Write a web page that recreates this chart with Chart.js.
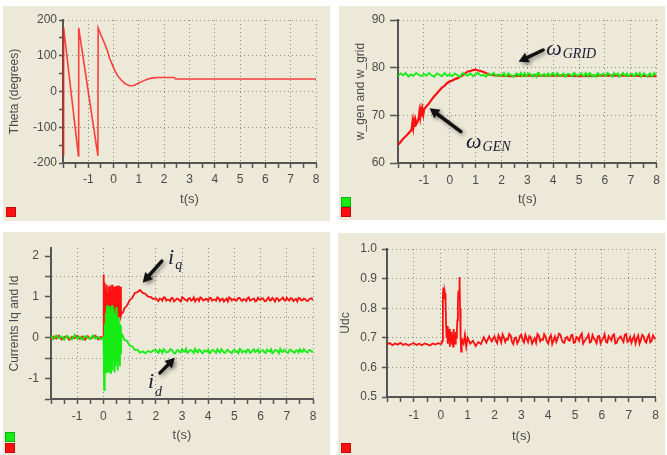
<!DOCTYPE html>
<html>
<head>
<meta charset="utf-8">
<script src="https://cdn.jsdelivr.net/npm/chart.js@4.4.1/dist/chart.umd.min.js"></script>
<style>
  html, body { margin: 0; padding: 0; background: #fff; }
  body { width: 667px; height: 455px; position: relative; overflow: hidden; }
  .panel { position: absolute; background: #ece9d8; }
  .panel canvas { display: block; }
</style>
</head>
<body>
<div class="panel" style="left:3px;top:6px;width:327px;height:215px"><canvas id="theta" width="327" height="215"></canvas></div>
<div class="panel" style="left:339px;top:6px;width:326px;height:214px"><canvas id="speed" width="326" height="214"></canvas></div>
<div class="panel" style="left:3px;top:232px;width:327px;height:223px"><canvas id="curr" width="327" height="223"></canvas></div>
<div class="panel" style="left:338px;top:233px;width:327px;height:222px"><canvas id="udc" width="327" height="222"></canvas></div>
<script>
// ---- data ----
const tPre = [-2.0, -1.9, -1.8, -1.7, -1.6, -1.5, -1.4, -1.3, -1.2, -1.1,
  -1.0, -0.9, -0.8, -0.7, -0.6, -0.5, -0.4, -0.3, -0.2, -0.1, 0.0];
const tMid = [0.1, 0.2, 0.3, 0.4, 0.5, 0.6, 0.7, 0.8, 0.9, 1.0,
  1.1, 1.2, 1.3, 1.4, 1.5, 1.6, 1.7, 1.8, 1.9];
const tSteady = [2.0, 2.1, 2.2, 2.3, 2.4, 2.5, 2.6, 2.7, 2.8, 2.9,
  3.0, 3.1, 3.2, 3.3, 3.4, 3.5, 3.6, 3.7, 3.8, 3.9,
  4.0, 4.1, 4.2, 4.3, 4.4, 4.5, 4.6, 4.7, 4.8, 4.9,
  5.0, 5.1, 5.2, 5.3, 5.4, 5.5, 5.6, 5.7, 5.8, 5.9,
  6.0, 6.1, 6.2, 6.3, 6.4, 6.5, 6.6, 6.7, 6.8, 6.9,
  7.0, 7.1, 7.2, 7.3, 7.4, 7.5, 7.6, 7.7, 7.8, 7.9, 8.0];
// in-between samples of the steady part (noise is dense there)
const tHalf = [2.05, 2.15, 2.25, 2.35, 2.45, 2.55, 2.65, 2.75, 2.85, 2.95,
  3.05, 3.15, 3.25, 3.35, 3.45, 3.55, 3.65, 3.75, 3.85, 3.95,
  4.05, 4.15, 4.25, 4.35, 4.45, 4.55, 4.65, 4.75, 4.85, 4.95,
  5.05, 5.15, 5.25, 5.35, 5.45, 5.55, 5.65, 5.75, 5.85, 5.95,
  6.05, 6.15, 6.25, 6.35, 6.45, 6.55, 6.65, 6.75, 6.85, 6.95,
  7.05, 7.15, 7.25, 7.35, 7.45, 7.55, 7.65, 7.75, 7.85, 7.95];

// Theta (degrees)
const thetaT = [-2.0, -1.98, -1.97, -1.39, -1.38, -0.62, -0.61, -0.5, -0.36, -0.25,
  -0.16, -0.05, 0.04, 0.15, 0.3, 0.45, 0.63, 0.8, 0.97, 1.15,
  1.36, 1.55, 1.76, 2.0, 2.4, 2.45, 3, 4, 5, 6, 7, 8];
const thetaV = [-110, -180, 178, -180, 178, -180, 178, 158, 135, 115,
  93, 75, 60, 45, 32, 22, 16, 17, 23, 29,
  35, 38, 39, 39, 39, 35, 35, 35, 35, 35, 35, 35];

// w_grid (green)
const wGridV = [78.2, 78.8, 78.4, 78.9, 78.1, 78.6, 78.3, 78.9, 78.5, 78.2,
  78.7, 78.3, 78.9, 78.4, 78.1, 78.8, 78.5, 78.2, 78.9, 78.3, 78.6,
  78.2, 78.8, 78.4, 78.1, 78.9, 78.5, 78.3, 78.8, 78.2, 78.6,
  78.9, 78.3, 78.5, 78.1, 78.8, 78.4, 78.9, 78.2, 78.6,
  78.3, 78.9, 78.2, 78.7, 78.4, 78.1, 78.8, 78.5, 78.2, 78.9,
  78.4, 78.7, 78.1, 78.6, 78.9, 78.3, 78.5, 78.2, 78.8, 78.4,
  78.9, 78.2, 78.6, 78.3, 78.8, 78.1, 78.7, 78.4, 78.9, 78.3,
  78.5, 78.8, 78.2, 78.6, 78.9, 78.1, 78.4, 78.8, 78.3, 78.7,
  78.2, 78.9, 78.5, 78.1, 78.6, 78.8, 78.3, 78.9, 78.4, 78.2,
  78.7, 78.3, 78.9, 78.5, 78.1, 78.8, 78.4, 78.6, 78.2, 78.9, 78.5];
const wGridHalf = [78.6, 78.2, 78.8, 78.4, 78.1, 78.7, 78.3, 78.9, 78.5, 78.2,
  78.8, 78.4, 78.6, 78.1, 78.9, 78.3, 78.7, 78.5, 78.2, 78.8,
  78.4, 78.9, 78.3, 78.6, 78.1, 78.7, 78.5, 78.2, 78.8, 78.4,
  78.6, 78.3, 78.9, 78.2, 78.7, 78.5, 78.1, 78.8, 78.4, 78.6,
  78.3, 78.7, 78.2, 78.9, 78.5, 78.1, 78.6, 78.4, 78.8, 78.3,
  78.7, 78.2, 78.5, 78.9, 78.4, 78.6, 78.1, 78.8, 78.3, 78.6];

// w_gen (red)
const wGenT = [-2.0, -1.9, -1.8, -1.7, -1.6, -1.5, -1.47, -1.44, -1.41, -1.38,
  -1.35, -1.32, -1.29, -1.25, -1.2, -1.17, -1.14, -1.11, -1.08, -1.05,
  -1.02, -0.99, -0.9, -0.8, -0.7, -0.6, -0.5, -0.4, -0.3, -0.2,
  -0.1, 0.0, 0.1, 0.2, 0.3, 0.4, 0.5, 0.6, 0.7, 0.8,
  0.9, 1.0, 1.1, 1.2, 1.3, 1.4, 1.5, 1.6, 1.8, 2.4,
  3.0, 3.6, 4.2, 5.0, 6.0, 7.0, 8.0];
const wGenV = [63.8, 64.4, 65.1, 65.6, 66.2, 66.8, 67.2, 68.6, 67.4, 68.8,
  67.6, 68.9, 68.2, 68.6, 69.4, 70.8, 69.6, 71.0, 69.8, 71.2,
  70.2, 71.3, 71.9, 72.5, 73.3, 74.0, 74.6, 75.2, 75.8, 76.2,
  76.8, 77.1, 77.3, 77.6, 77.8, 78.1, 78.4, 78.8, 79.2, 79.3,
  79.5, 79.6, 79.4, 79.3, 79.1, 78.9, 78.6, 78.5, 78.4, 78.2,
  78.4, 78.3, 78.4, 78.2, 78.4, 78.3, 78.2];

// currents: burst and recovery times
const tBurst = [0.01, 0.03, 0.05, 0.07, 0.09, 0.11, 0.13, 0.15, 0.17, 0.19,
  0.21, 0.23, 0.25, 0.27, 0.29, 0.31, 0.33, 0.35, 0.37, 0.39,
  0.41, 0.43, 0.45, 0.47, 0.49, 0.51, 0.53, 0.55, 0.57, 0.59,
  0.61, 0.63, 0.65, 0.67, 0.69];
const tPost = [0.75, 0.8, 0.9, 1.0, 1.1, 1.2, 1.3, 1.4, 1.5, 1.6, 1.7, 1.8, 1.9];

const iqPre = [-0.05, 0.03, -0.02, 0.05, -0.04, 0.01, 0.04, -0.05, 0.02, -0.01,
  0.05, -0.03, 0.03, -0.05, 0.04, -0.02, 0.01, 0.05, -0.04, 0.02, 0.00];
const iqBurst = [1.55, 0.45, 1.35, 0.25, 1.20, 0.50, 1.30, 0.30, 1.10, 0.60,
  1.25, 0.35, 1.28, 0.50, 1.15, 0.40, 1.30, 0.55, 1.20, 0.30,
  1.25, 0.60, 1.10, 0.45, 1.27, 0.50, 1.20, 0.35, 1.28, 0.60,
  1.15, 0.50, 1.25, 0.55, 0.60];
const iqPost = [0.62, 0.72, 0.79, 0.92, 0.98, 1.10, 1.12, 1.17, 1.10, 1.08, 1.01, 1.00, 0.95];
const iqSteady = [0.97, 0.90, 0.95, 0.99, 0.91, 0.93, 0.98, 0.89, 0.96, 0.92,
  0.99, 0.94, 0.90, 0.97, 0.93, 0.89, 0.96, 0.99, 0.92, 0.95,
  0.90, 0.98, 0.93, 0.91, 0.97, 0.94, 0.89, 0.96, 0.99, 0.91,
  0.95, 0.92, 0.98, 0.90, 0.94, 0.97, 0.91, 0.95, 0.89, 0.98,
  0.93, 0.96, 0.90, 0.99, 0.92, 0.94, 0.97, 0.90, 0.95, 0.92,
  0.98, 0.91, 0.96, 0.93, 0.89, 0.97, 0.92, 0.95, 0.90, 0.96, 0.92];
const iqHalf = [0.93, 0.96, 0.91, 0.99, 0.94, 0.90, 0.97, 0.92, 0.95, 0.89,
  0.98, 0.93, 0.96, 0.91, 0.99, 0.94, 0.90, 0.97, 0.92, 0.95,
  0.98, 0.91, 0.94, 0.99, 0.90, 0.96, 0.93, 0.89, 0.97, 0.94,
  0.91, 0.98, 0.92, 0.95, 0.90, 0.99, 0.93, 0.96, 0.91, 0.94,
  0.97, 0.90, 0.95, 0.92, 0.98, 0.89, 0.96, 0.93, 0.99, 0.91,
  0.94, 0.97, 0.90, 0.95, 0.98, 0.92, 0.96, 0.91, 0.94, 0.97];

const idPre = [0.04, -0.03, 0.06, -0.01, 0.03, -0.05, 0.05, 0.00, -0.04, 0.07,
  -0.02, 0.03, -0.05, 0.04, 0.01, -0.03, 0.06, -0.02, 0.02, -0.04, 0.01];
const idBurst = [-0.30, -1.28, 0.35, -0.75, 0.60, -0.85, 0.78, -0.50, 0.80, -0.82,
  0.70, -0.60, 0.78, -0.86, 0.65, -0.70, 0.80, -0.80, 0.72, -0.45,
  0.60, -0.85, 0.55, -0.70, 0.75, -0.60, 0.45, -0.80, 0.50, -0.55,
  0.35, -0.70, 0.30, -0.40, 0.10];
const idPost = [0.04, -0.05, -0.08, -0.19, -0.21, -0.30, -0.29, -0.37, -0.33, -0.38, -0.32, -0.36, -0.31];
const idSteady = [-0.30, -0.37, -0.32, -0.28, -0.36, -0.33, -0.29, -0.38, -0.31, -0.35,
  -0.28, -0.34, -0.37, -0.30, -0.33, -0.27, -0.36, -0.31, -0.38, -0.32,
  -0.29, -0.35, -0.30, -0.37, -0.33, -0.28, -0.36, -0.31, -0.34, -0.38,
  -0.30, -0.33, -0.27, -0.36, -0.32, -0.29, -0.37, -0.31, -0.35, -0.28,
  -0.34, -0.30, -0.37, -0.32, -0.28, -0.35, -0.31, -0.38, -0.33, -0.29,
  -0.36, -0.30, -0.34, -0.37, -0.31, -0.28, -0.35, -0.32, -0.36, -0.30, -0.33];
const idHalf = [-0.34, -0.29, -0.37, -0.31, -0.35, -0.28, -0.33, -0.38, -0.30, -0.36,
  -0.32, -0.27, -0.35, -0.30, -0.37, -0.33, -0.29, -0.36, -0.31, -0.34,
  -0.38, -0.30, -0.33, -0.28, -0.36, -0.32, -0.37, -0.29, -0.35, -0.31,
  -0.34, -0.38, -0.29, -0.33, -0.36, -0.30, -0.35, -0.28, -0.32, -0.37,
  -0.31, -0.36, -0.29, -0.34, -0.38, -0.30, -0.33, -0.27, -0.35, -0.32,
  -0.37, -0.29, -0.34, -0.31, -0.36, -0.33, -0.28, -0.35, -0.30, -0.34];

// Udc
const udcPre = [0.678, 0.682, 0.675, 0.681, 0.677, 0.683, 0.676, 0.680, 0.674, 0.679,
  0.682, 0.676, 0.680, 0.675, 0.681, 0.678, 0.674, 0.681, 0.677, 0.682, 0.679];
const tUdcBurst = [0.03, 0.06, 0.08,
  0.10, 0.12, 0.14, 0.16, 0.18, 0.20, 0.22, 0.24, 0.26, 0.28,
  0.30, 0.32, 0.34, 0.36, 0.38, 0.40, 0.42, 0.44, 0.46, 0.48,
  0.50, 0.52, 0.54, 0.56, 0.58, 0.60, 0.62, 0.64, 0.66, 0.68,
  0.70, 0.72, 0.74, 0.76, 0.78, 0.80,
  0.85, 0.90, 0.95, 1.00,
  1.1, 1.2, 1.3, 1.4, 1.5, 1.6, 1.7, 1.8, 1.9];
const udcBurst = [0.68, 0.69, 0.84,
  0.87, 0.83, 0.86, 0.85, 0.82, 0.74, 0.70, 0.74, 0.68, 0.72,
  0.69, 0.73, 0.67, 0.71, 0.70, 0.72, 0.68, 0.71, 0.67, 0.73,
  0.69, 0.71, 0.68, 0.72, 0.70, 0.72, 0.76, 0.82, 0.86, 0.83,
  0.905, 0.80, 0.70, 0.653, 0.70, 0.69,
  0.68, 0.71, 0.67, 0.70,
  0.68, 0.69, 0.672, 0.686, 0.679, 0.702, 0.684, 0.705, 0.688];
const udcSteady = [0.705, 0.682, 0.698, 0.712, 0.686, 0.694, 0.708, 0.679, 0.701, 0.690,
  0.711, 0.684, 0.697, 0.706, 0.680, 0.699, 0.713, 0.688, 0.693, 0.704,
  0.681, 0.709, 0.692, 0.686, 0.714, 0.696, 0.683, 0.703, 0.690, 0.710,
  0.685, 0.700, 0.707, 0.680, 0.695, 0.711, 0.687, 0.698, 0.682, 0.706,
  0.692, 0.712, 0.684, 0.699, 0.708, 0.681, 0.696, 0.705, 0.686, 0.713,
  0.690, 0.683, 0.707, 0.697, 0.680, 0.710, 0.689, 0.702, 0.685, 0.708, 0.694];
const udcHalf = [0.691, 0.709, 0.684, 0.702, 0.697, 0.713, 0.687, 0.699, 0.681, 0.706,
  0.693, 0.710, 0.686, 0.701, 0.690, 0.683, 0.707, 0.695, 0.712, 0.688,
  0.700, 0.679, 0.704, 0.697, 0.711, 0.685, 0.699, 0.692, 0.708, 0.683,
  0.703, 0.690, 0.714, 0.688, 0.701, 0.684, 0.709, 0.693, 0.705, 0.681,
  0.698, 0.687, 0.706, 0.691, 0.712, 0.683, 0.700, 0.694, 0.710, 0.686,
  0.703, 0.696, 0.681, 0.708, 0.692, 0.705, 0.684, 0.711, 0.690, 0.700];

// ---- styling helpers ----
const FONT = '"Liberation Sans", Arial, sans-serif';
const INK = '#4a4a4a';
const DOT = '#8c8c8c';
const NONE = 'rgba(0,0,0,0)';
const RED = '#ff1010';
const GREEN = '#14ec14';

function xy(ts, vs) {
  return ts.map((t, i) => ({ x: t, y: vs[i] }));
}

// put the in-between samples into time order
function merge(a, b) {
  return a.concat(b).sort((p, q) => p.x - q.x);
}

function line(points, color, width, swatch) {
  return { data: points, borderColor: color, backgroundColor: swatch || color, borderWidth: width,
    pointRadius: 0, tension: 0, fill: false };
}

function xAxis(height, pad) {
  return {
    type: 'linear', min: -2, max: 8,
    afterFit: s => { s.height = height; },
    border: { color: '#555', width: 2, dash: [1, 3] },
    grid: {
      color: c => (Number.isInteger(c.tick.value) && c.tick.value > -2) ? DOT : NONE,
      tickColor: '#555', tickLength: 5, tickWidth: 1.5
    },
    ticks: {
      stepSize: 0.5, autoSkip: false, maxRotation: 0, padding: pad, color: INK,
      font: { family: FONT, size: 12 },
      callback: v => (Number.isInteger(v) && v > -2) ? v : ''
    },
    title: { display: true, text: 't(s)', color: INK, font: { family: FONT, size: 13 }, padding: 0 }
  };
}

function yAxis(o) {
  return {
    min: o.min, max: o.max,
    afterFit: s => { s.width = o.width; },
    border: { color: '#555', width: 2, dash: [1, 3] },
    grid: {
      color: c => o.grid(c.tick.value) ? DOT : NONE,
      tickColor: '#555', tickLength: o.tickLen, tickWidth: 1.5
    },
    ticks: {
      stepSize: o.step, includeBounds: o.bounds !== false, autoSkip: false, padding: o.pad,
      color: INK, font: { family: FONT, size: 12 }, callback: o.label
    },
    title: { display: true, text: o.title, color: INK, font: { family: FONT, size: 12 },
      padding: { top: o.titlePad, bottom: 0 } }
  };
}

// arrows and ω / i labels, placed in data coordinates
const annotate = {
  id: 'annotate',
  afterDatasetsDraw(chart, args, opts) {
    const { ctx, scales: { x, y } } = chart;
    (opts.arrows || []).forEach(a => {
      const x1 = x.getPixelForValue(a.from[0]), y1 = y.getPixelForValue(a.from[1]);
      const x2 = x.getPixelForValue(a.to[0]), y2 = y.getPixelForValue(a.to[1]);
      const ang = Math.atan2(y2 - y1, x2 - x1);
      const hl = 11;
      ctx.save();
      ctx.shadowColor = 'rgba(0,0,0,0.4)';
      ctx.shadowBlur = 4;
      ctx.shadowOffsetX = 2;
      ctx.shadowOffsetY = 2;
      ctx.strokeStyle = '#111';
      ctx.fillStyle = '#111';
      ctx.lineWidth = 3.5;
      ctx.lineCap = 'round';
      ctx.beginPath();
      ctx.moveTo(x1, y1);
      ctx.lineTo(x2 - hl * 0.6 * Math.cos(ang), y2 - hl * 0.6 * Math.sin(ang));
      ctx.stroke();
      ctx.beginPath();
      ctx.moveTo(x2, y2);
      ctx.lineTo(x2 - hl * Math.cos(ang - 0.5), y2 - hl * Math.sin(ang - 0.5));
      ctx.lineTo(x2 - hl * Math.cos(ang + 0.5), y2 - hl * Math.sin(ang + 0.5));
      ctx.closePath();
      ctx.fill();
      ctx.restore();
    });
    (opts.labels || []).forEach(l => {
      const px = x.getPixelForValue(l.at[0]), py = y.getPixelForValue(l.at[1]);
      ctx.save();
      ctx.fillStyle = '#1b1b33';
      ctx.textBaseline = 'alphabetic';
      ctx.font = 'italic 22px "Liberation Serif", serif';
      ctx.fillText(l.main, px, py);
      const w = ctx.measureText(l.main).width;
      ctx.font = 'italic 14px "Liberation Serif", serif';
      ctx.fillText(l.sub, px + w + 1, py + l.dy);
      ctx.restore();
    });
  }
};

// little colour squares in the lower left corner
const swatches = {
  id: 'swatches',
  afterDraw(chart, args, opts) {
    const ctx = chart.ctx;
    chart.data.datasets.forEach((ds, i) => {
      const top = opts.top + i * opts.gap;
      ctx.fillStyle = ds.backgroundColor;
      ctx.fillRect(opts.left, top, 10, 10);
      ctx.strokeStyle = 'rgba(0,0,0,0.25)';
      ctx.lineWidth = 1;
      ctx.strokeRect(opts.left + 0.5, top + 0.5, 9, 9);
    });
  }
};

function panel(id, datasets, yScale, xh, xpad, pad, marks, sw) {
  return new Chart(document.getElementById(id), {
    type: 'line',
    data: { datasets },
    options: {
      responsive: false,
      animation: false,
      layout: { padding: pad },
      scales: { x: xAxis(xh, xpad), y: yScale },
      plugins: { legend: { display: false }, tooltip: { enabled: false }, annotate: marks, swatches: sw }
    },
    plugins: [annotate, swatches]
  });
}

// ---- the four charts ----
panel('theta',
  [line(xy(thetaT, thetaV), 'rgba(255,20,20,0.8)', 1.6, RED)],
  yAxis({ min: -200, max: 200, step: 50, width: 60, tickLen: 4, pad: 2, titlePad: 4,
    title: 'Theta (degrees)', grid: v => v > -200 && v % 100 === 0,
    label: v => v % 100 === 0 ? v : '' }),
  44, 4, { top: 14, right: 14, bottom: 14, left: 0 }, {}, { left: 3, top: 201, gap: 10 });

panel('speed',
  [line(merge(xy(tPre.concat(tMid, tSteady), wGridV), xy(tHalf, wGridHalf)), GREEN, 1.8),
   line(xy(wGenT, wGenV), RED, 2.2)],
  yAxis({ min: 60, max: 90, step: 10, width: 59, tickLen: 8, pad: 5, titlePad: 14,
    title: 'w_gen and w_grid', grid: v => v > 60, label: v => v }),
  44, 5, { top: 14, right: 5, bottom: 13, left: 0 },
  { arrows: [{ from: [3.61, 83.7], to: [2.66, 81.25] }, { from: [0.43, 66.57], to: [-0.78, 71.48] }],
    labels: [{ at: [3.73, 82.66], main: 'ω', sub: 'GRID', dy: 3 }, { at: [0.63, 63.15], main: 'ω', sub: 'GEN', dy: 3 }] },
  { left: 2, top: 191, gap: 10 });

panel('curr',
  [line(merge(xy(tPre.concat(tBurst, tPost, tSteady), idPre.concat(idBurst, idPost, idSteady)), xy(tHalf, idHalf)), GREEN, 1.8),
   line(merge(xy(tPre.concat(tBurst, tPost, tSteady), iqPre.concat(iqBurst, iqPost, iqSteady)), xy(tHalf, iqHalf)), RED, 1.8)],
  yAxis({ min: -1.5, max: 2.2, step: 0.5, bounds: false, width: 48, tickLen: 6, pad: 6, titlePad: 4,
    title: 'Currents Iq and Id', grid: v => v > -1.5 && !Number.isInteger(v),
    label: v => Number.isInteger(v) ? v : '' }),
  44, 5, { top: 16, right: 17, bottom: 12, left: 0 },
  { arrows: [{ from: [2.23, 1.88], to: [1.5, 1.35] }, { from: [2.16, -0.86], to: [2.73, -0.49] }],
    labels: [{ at: [2.47, 1.80], main: 'i', sub: 'q', dy: 5 }, { at: [1.70, -1.23], main: 'i', sub: 'd', dy: 8 }] },
  { left: 2, top: 200, gap: 11 });

panel('udc',
  [line(merge(xy(tPre.concat(tUdcBurst, tSteady), udcPre.concat(udcBurst, udcSteady)), xy(tHalf, udcHalf)), RED, 1.8)],
  yAxis({ min: 0.5, max: 1.0, step: 0.1, width: 49, tickLen: 5, pad: 5, titlePad: 0,
    title: 'Udc', grid: v => v > 0.55, label: v => v.toFixed(1) }),
  47, 6, { top: 16, right: 8, bottom: 11, left: 0 }, {}, { left: 3, top: 210, gap: 10 });
</script>
</body>
</html>
